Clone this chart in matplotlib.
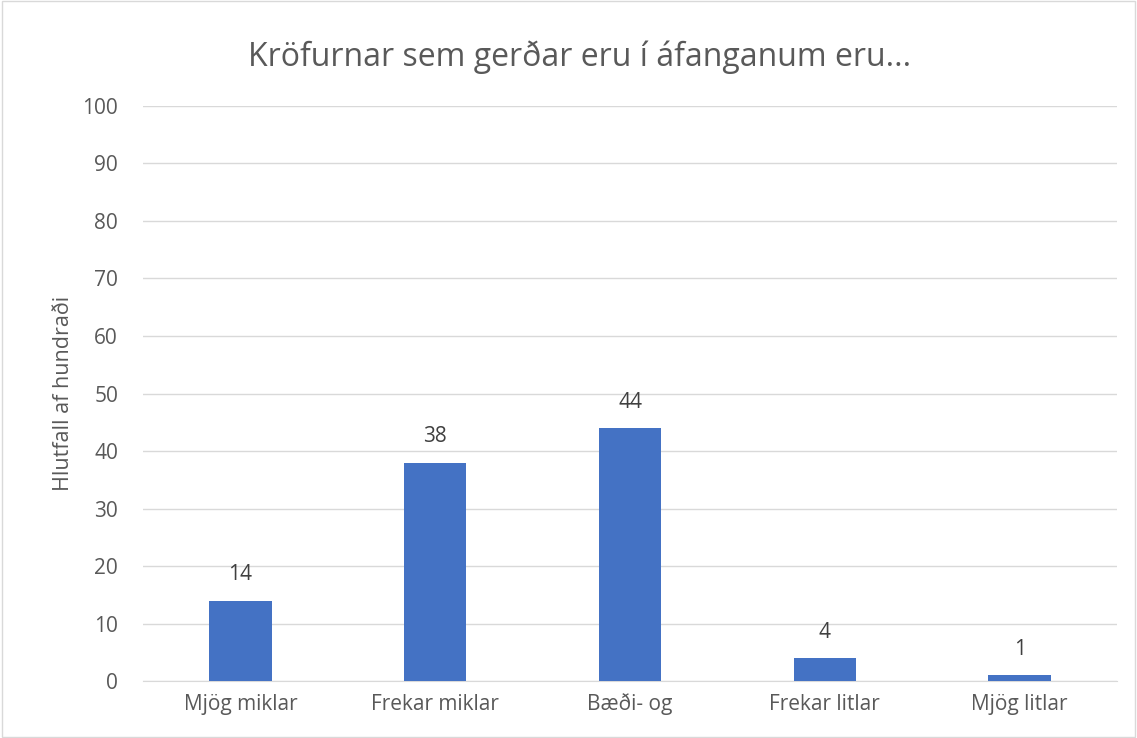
import matplotlib
matplotlib.use("Agg")
import matplotlib.pyplot as plt
from matplotlib.patches import Rectangle

categories = ["Mjög miklar", "Frekar miklar", "Bæði- og", "Frekar litlar", "Mjög litlar"]
values = [14, 38, 44, 4, 1]
yticks = [0, 10, 20, 30, 40, 50, 60, 70, 80, 90, 100]

text_color = "#595959"
bar_color = "#4472C4"
grid_color = "#D9D9D9"

plt.rcParams['font.family'] = ['Open Sans', 'DejaVu Sans']

fig = plt.figure(figsize=(11.37, 7.38), dpi=100)
ax = fig.add_axes([0.1258, 0.0772, 0.8566, 0.7792])

x = list(range(len(categories)))
bars = ax.bar(x, values, width=0.32, color=bar_color, zorder=3)
for xi, v in zip(x, values):
    ax.annotate(str(v), (xi, v), xytext=(0, 11), textcoords="offset points",
                ha="center", va="bottom", fontsize=15, color="#404040")

ax.set_xlim(-0.5, len(categories) - 0.5)
ax.set_ylim(0, 100)
ax.set_yticks(yticks)
ax.set_xticks(x)
ax.set_xticklabels(categories)
ax.tick_params(axis="both", length=0, labelsize=15, labelcolor=text_color)
ax.tick_params(axis="y", pad=18)
ax.tick_params(axis="x", pad=9)
ax.yaxis.grid(True, color=grid_color, linewidth=1, zorder=0)
for s in ["top", "right", "left"]:
    ax.spines[s].set_visible(False)
ax.spines["bottom"].set_color(grid_color)

ax.set_ylabel("Hlutfall af hundraði", fontsize=15.5, color=text_color, labelpad=6)
fig.text(0.51, 0.922, "Kröfurnar sem gerðar eru í áfanganum eru...", ha="center",
         va="center", fontsize=23, color=text_color)

fig.patches.append(Rectangle((0.002, 0.002), 0.996, 0.996, transform=fig.transFigure,
                             fill=False, edgecolor="#D9D9D9", linewidth=1))

fig.savefig("out.png", dpi=100)
